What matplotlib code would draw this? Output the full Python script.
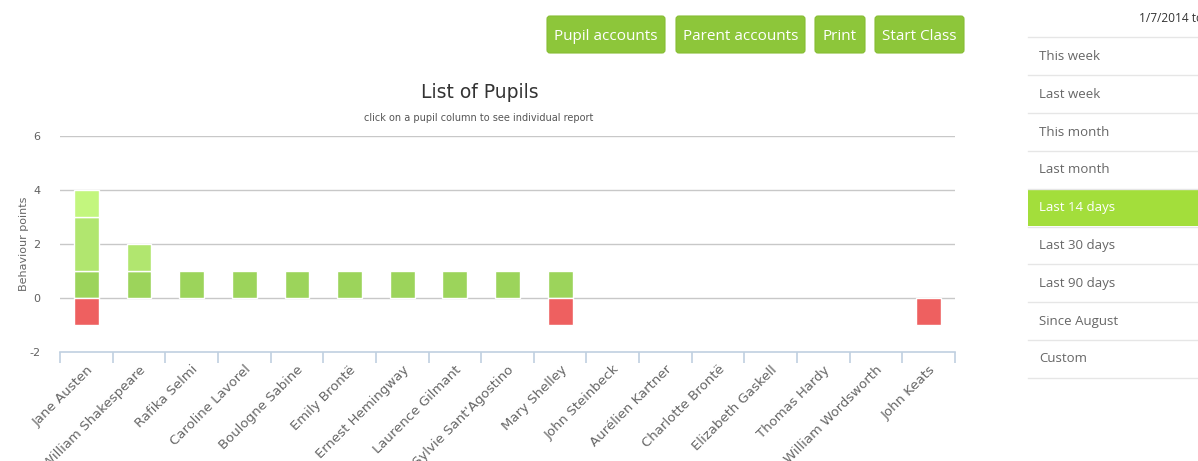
"""List of Pupils behaviour chart with the surrounding page controls."""

import matplotlib
matplotlib.use("Agg")
import matplotlib.pyplot as plt
import numpy as np
from matplotlib.patches import FancyBboxPatch, Rectangle

plt.rcParams["axes.unicode_minus"] = False

# ---------------------------------------------------------------------------
# Data
# ---------------------------------------------------------------------------
pupils = [
    "Jane Austen", "William Shakespeare", "Rafika Selmi", "Caroline Lavorel",
    "Boulogne Sabine", "Emily Brontë", "Ernest Hemingway", "Laurence Gilmant",
    "Sylvie Sant'Agostino", "Mary Shelley", "John Steinbeck", "Aurélien Kartner",
    "Charlotte Brontë", "Elizabeth Gaskell", "Thomas Hardy", "William Wordsworth",
    "John Keats",
]
points_a = [1, 1, 1, 1, 1, 1, 1, 1, 1, 1, 0, 0, 0, 0, 0, 0, 0]
points_b = [2, 1, 0, 0, 0, 0, 0, 0, 0, 0, 0, 0, 0, 0, 0, 0, 0]
points_c = [1, 0, 0, 0, 0, 0, 0, 0, 0, 0, 0, 0, 0, 0, 0, 0, 0]
points_neg = [-1, 0, 0, 0, 0, 0, 0, 0, 0, -1, 0, 0, 0, 0, 0, 0, -1]

y_ticks = [-2, 0, 2, 4, 6]

buttons = ["Pupil accounts", "Parent accounts", "Print", "Start Class"]
periods = ["This week", "Last week", "This month", "Last month", "Last 14 days",
           "Last 30 days", "Last 90 days", "Since August", "Custom"]
active_period = "Last 14 days"

COL_A = "#9cd45b"
COL_B = "#b1e66f"
COL_C = "#c3f67e"
COL_NEG = "#ee6060"
TXT = "#666666"
UI_FONT = ["Open Sans", "DejaVu Sans"]

W, H = 1198, 461
fig = plt.figure(figsize=(W / 100, H / 100), dpi=100)

# ---------------------------------------------------------------------------
# Chart
# ---------------------------------------------------------------------------
ax = fig.add_axes([60 / W, 1 - 352 / H, 895 / W, 216 / H])
x = np.arange(len(pupils))
bw = 0.47
edge = dict(edgecolor="white", linewidth=1.0, zorder=3)

a = np.array(points_a)
b = np.array(points_b)
c = np.array(points_c)
neg = np.array(points_neg)


def stack(vals, bottom, color):
    # skip empty segments so their white edges don't cut the zero line
    m = vals != 0
    ax.bar(x[m], vals[m], bw, bottom=bottom[m], color=color, **edge)


zero = np.zeros_like(a)
stack(a, zero, COL_A)
stack(b, a, COL_B)
stack(c, a + b, COL_C)
stack(neg, zero, COL_NEG)

ax.set_xlim(-0.5, len(pupils) - 0.5)
ax.set_ylim(-2, 6)
ax.set_yticks(y_ticks)
for t in y_ticks[1:]:
    ax.axhline(t, color="#c8c8c8", linewidth=1.0, zorder=1)

for s in ["top", "right", "left"]:
    ax.spines[s].set_visible(False)
ax.spines["bottom"].set_color("#c0d0e0")
ax.spines["bottom"].set_linewidth(1.2)

ax.set_xticks(x)
ax.set_xticklabels(pupils, rotation=45, ha="right", rotation_mode="anchor",
                   fontsize=9.5, color=TXT, family=["Verdana", "DejaVu Sans"])
ax.tick_params(axis="x", length=0, pad=8)
ax.set_xticks(np.arange(len(pupils) + 1) - 0.5, minor=True)
ax.tick_params(axis="x", which="minor", length=8, color="#c0d0e0", width=1.2)
ax.tick_params(axis="y", length=0, labelsize=8, labelcolor="#606060", pad=14)
ax.set_ylabel("Behaviour points", fontsize=8, color=TXT, labelpad=0)

fig.text(480 / W, 1 - 93 / H, "List of Pupils", ha="center", va="center",
         fontsize=13.5, color="#333333")
fig.text(479 / W, 1 - 118 / H, "click on a pupil column to see individual report",
         ha="center", va="center", fontsize=7, color="#555555")

# ---------------------------------------------------------------------------
# Page controls (pixel coordinates overlay)
# ---------------------------------------------------------------------------
ui = fig.add_axes([0, 0, 1, 1], zorder=-1)
ui.set_xlim(0, W)
ui.set_ylim(H, 0)
ui.axis("off")

btn_pos = [(547, 118), (676, 129), (815, 50), (875, 89)]
for label, (bx, bwid) in zip(buttons, btn_pos):
    ui.add_patch(FancyBboxPatch((bx + 3, 16 + 3), bwid - 6, 37 - 6,
                                boxstyle="round,pad=3", fc="#8dc63a",
                                ec="#86bd33", lw=0.8))
    ui.text(bx + bwid / 2, 36, label, ha="center", va="center", color="white",
            fontsize=11, family=UI_FONT)

ui.text(1139, 18, "1/7/2014 to", ha="left", va="center", fontsize=8.6,
        color="#333333", family=UI_FONT)

row_h = 37.8
top = 37.5
for i, p in enumerate(periods):
    y0 = top + i * row_h
    ui.plot([1028, W], [y0, y0], color="#e6e6e6", lw=1.0)
    if p == active_period:
        ui.add_patch(Rectangle((1028, y0), W - 1028, row_h, fc="#a3de3b", ec="none"))
        col = "white"
    else:
        col = TXT
    ui.text(1039, y0 + row_h / 2, p, ha="left", va="center", fontsize=9.5,
            color=col, family=UI_FONT)
ui.plot([1028, W], [top + len(periods) * row_h] * 2, color="#e6e6e6", lw=1.0)

fig.savefig("out.png", dpi=100)
